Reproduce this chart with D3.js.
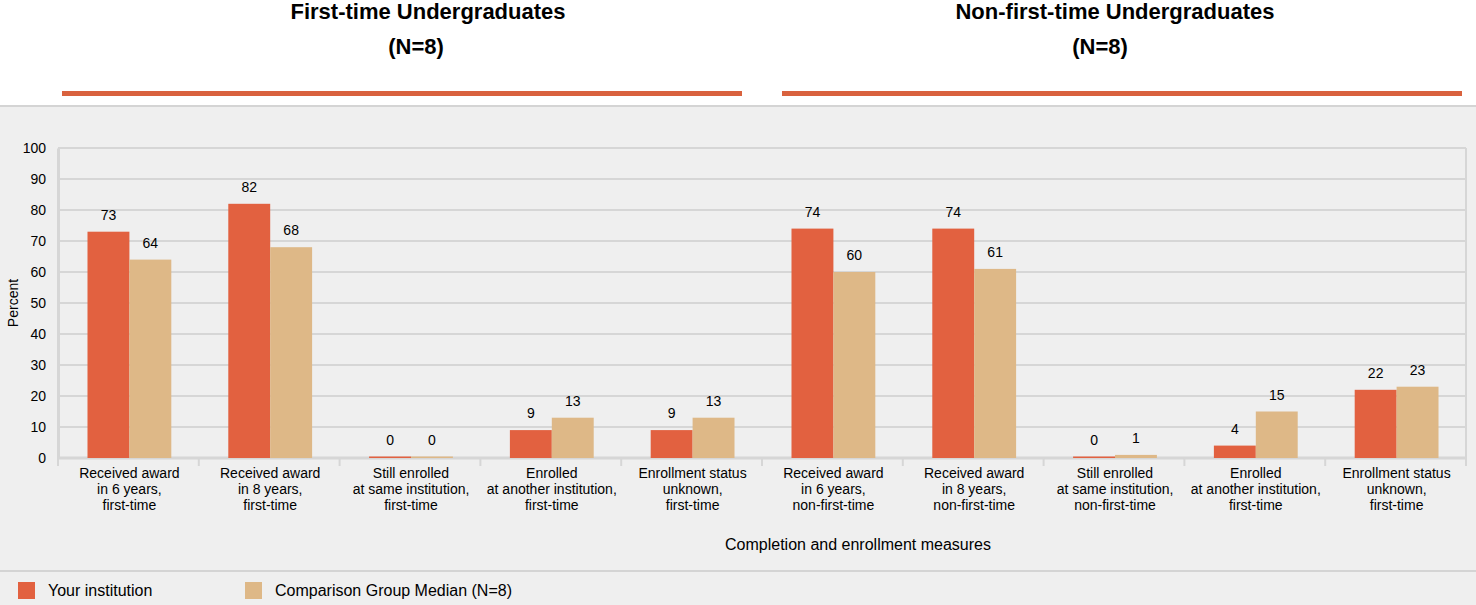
<!DOCTYPE html>
<html><head><meta charset="utf-8">
<script src="https://cdn.jsdelivr.net/npm/d3@7"></script>
<style>
html,body{margin:0;padding:0;background:#fff;}
svg{display:block;font-family:"Liberation Sans",Arial,sans-serif;}
</style></head>
<body>
<svg id="c" width="1476" height="605"></svg>
<script>
const categories = [
  ["Received award","in 6 years,","first-time"],
  ["Received award","in 8 years,","first-time"],
  ["Still enrolled","at same institution,","first-time"],
  ["Enrolled","at another institution,","first-time"],
  ["Enrollment status","unknown,","first-time"],
  ["Received award","in 6 years,","non-first-time"],
  ["Received award","in 8 years,","non-first-time"],
  ["Still enrolled","at same institution,","non-first-time"],
  ["Enrolled","at another institution,","first-time"],
  ["Enrollment status","unknown,","first-time"]
];
const yourInstitution = [73, 82, 0, 9, 9, 74, 74, 0, 4, 22];
const comparisonMedian = [64, 68, 0, 13, 13, 60, 61, 1, 15, 23];
const seriesNames = ["Your institution", "Comparison Group Median (N=8)"];
const yTicks = [0,10,20,30,40,50,60,70,80,90,100];
const groupTitles = [["First-time Undergraduates","(N=8)"],["Non-first-time Undergraduates","(N=8)"]];
const xAxisTitle = "Completion and enrollment measures";
const yAxisTitle = "Percent";

const colors = ["#e26140", "#deb887"];
const svg = d3.select("#c");
const W = 1476, H = 605;

// backgrounds
svg.append("rect").attr("x",0).attr("y",0).attr("width",W).attr("height",106).attr("fill","#fff");
svg.append("rect").attr("x",0).attr("y",106).attr("width",W).attr("height",H-106).attr("fill","#efefef");
svg.append("line").attr("x1",0).attr("x2",W).attr("y1",106).attr("y2",106).attr("stroke","#d4d4d4").attr("stroke-width",2);
svg.append("line").attr("x1",0).attr("x2",W).attr("y1",571).attr("y2",571).attr("stroke","#d4d4d4").attr("stroke-width",2);

// group headers
const headerX = [[62,742,428,416],[782,1462,1115,1100]];
groupTitles.forEach((t,i)=>{
  const hx = headerX[i];
  svg.append("text").attr("x",hx[2]).attr("y",19).attr("text-anchor","middle")
    .attr("font-size",22).attr("font-weight","bold").attr("fill","#000").text(t[0]);
  svg.append("text").attr("x",hx[3]).attr("y",54).attr("text-anchor","middle")
    .attr("font-size",22).attr("font-weight","bold").attr("fill","#000").text(t[1]);
  svg.append("rect").attr("x",hx[0]).attr("y",91).attr("width",hx[1]-hx[0]).attr("height",5).attr("fill","#d9623e");
});

const m = {left:58, right:1466, top:148, bottom:458};
const x0 = d3.scaleBand().domain(d3.range(categories.length)).range([m.left,m.right]).paddingInner(0).paddingOuter(0);
const x1 = d3.scaleBand().domain([0,1]).range([1,x0.bandwidth()+1]).paddingInner(0).paddingOuter(0.68);
const y = d3.scaleLinear().domain([0,100]).range([m.bottom,m.top]);

// grid
const g = svg.append("g");
g.selectAll("line.grid").data(yTicks).join("line")
  .attr("x1",m.left).attr("x2",m.right)
  .attr("y1",d=>y(d)).attr("y2",d=>y(d))
  .attr("stroke","#d6d6d6").attr("stroke-width",2);
g.append("line").attr("x1",m.right).attr("x2",m.right).attr("y1",m.top).attr("y2",m.bottom).attr("stroke","#d6d6d6").attr("stroke-width",2);

// y axis
const yAxis = d3.axisLeft(y).tickValues(yTicks).tickSize(0).tickPadding(12);
const ya = svg.append("g").attr("transform",`translate(${m.left},0)`).call(yAxis);
ya.select(".domain").attr("stroke","#d6d6d6").attr("stroke-width",3);
ya.selectAll("text").attr("font-size",14).attr("fill","#000").attr("font-family","Liberation Sans, Arial, sans-serif");

// x axis
const xa = svg.append("g").attr("transform",`translate(0,${m.bottom})`);
xa.append("line").attr("x1",m.left).attr("x2",m.right).attr("y1",0).attr("y2",0).attr("stroke","#d6d6d6").attr("stroke-width",3);
const bounds = d3.range(categories.length+1).map(i => i<categories.length ? x0(i) : m.right);
xa.selectAll("line.tk").data(bounds).join("line").attr("class","tk")
  .attr("x1",d=>d).attr("x2",d=>d).attr("y1",0).attr("y2",8)
  .attr("stroke","#d6d6d6").attr("stroke-width",2);
categories.forEach((lines,i)=>{
  const cx = x0(i)+x0.bandwidth()/2+1;
  const t = xa.append("text").attr("x",cx).attr("y",20)
    .attr("text-anchor","middle").attr("font-size",14).attr("fill","#000");
  lines.forEach((l,j)=>t.append("tspan").attr("x",cx).attr("dy", j===0?0:16).text(l));
});

// bars
const series = [yourInstitution, comparisonMedian];
series.forEach((vals,s)=>{
  const bg = svg.append("g");
  bg.selectAll("rect").data(vals).join("rect")
    .attr("x",(d,i)=>x0(i)+x1(s))
    .attr("width",x1.bandwidth())
    .attr("y",d=>Math.min(y(d), m.bottom-1.5))
    .attr("height",d=>Math.max(m.bottom-y(d),1.5))
    .attr("fill",colors[s]);
  bg.selectAll("text").data(vals).join("text")
    .attr("x",(d,i)=>x0(i)+x1(s)+x1.bandwidth()/2)
    .attr("y",d=>Math.min(y(d), m.bottom-1.5)-12)
    .attr("text-anchor","middle").attr("font-size",14).attr("fill","#000")
    .text(d=>d);
});

// axis titles
svg.append("text").attr("x",858).attr("y",550).attr("text-anchor","middle").attr("font-size",16).attr("fill","#000").text(xAxisTitle);
svg.append("text").attr("transform","translate(18,303) rotate(-90)").attr("text-anchor","middle").attr("font-size",14).attr("fill","#000").text(yAxisTitle);

// legend
const legX = [18, 245];
seriesNames.forEach((n,i)=>{
  svg.append("rect").attr("x",legX[i]).attr("y",582).attr("width",17).attr("height",17).attr("fill",colors[i]);
  svg.append("text").attr("x",legX[i]+30).attr("y",596).attr("font-size",16).attr("fill","#000").text(n);
});
</script>
</body></html>
